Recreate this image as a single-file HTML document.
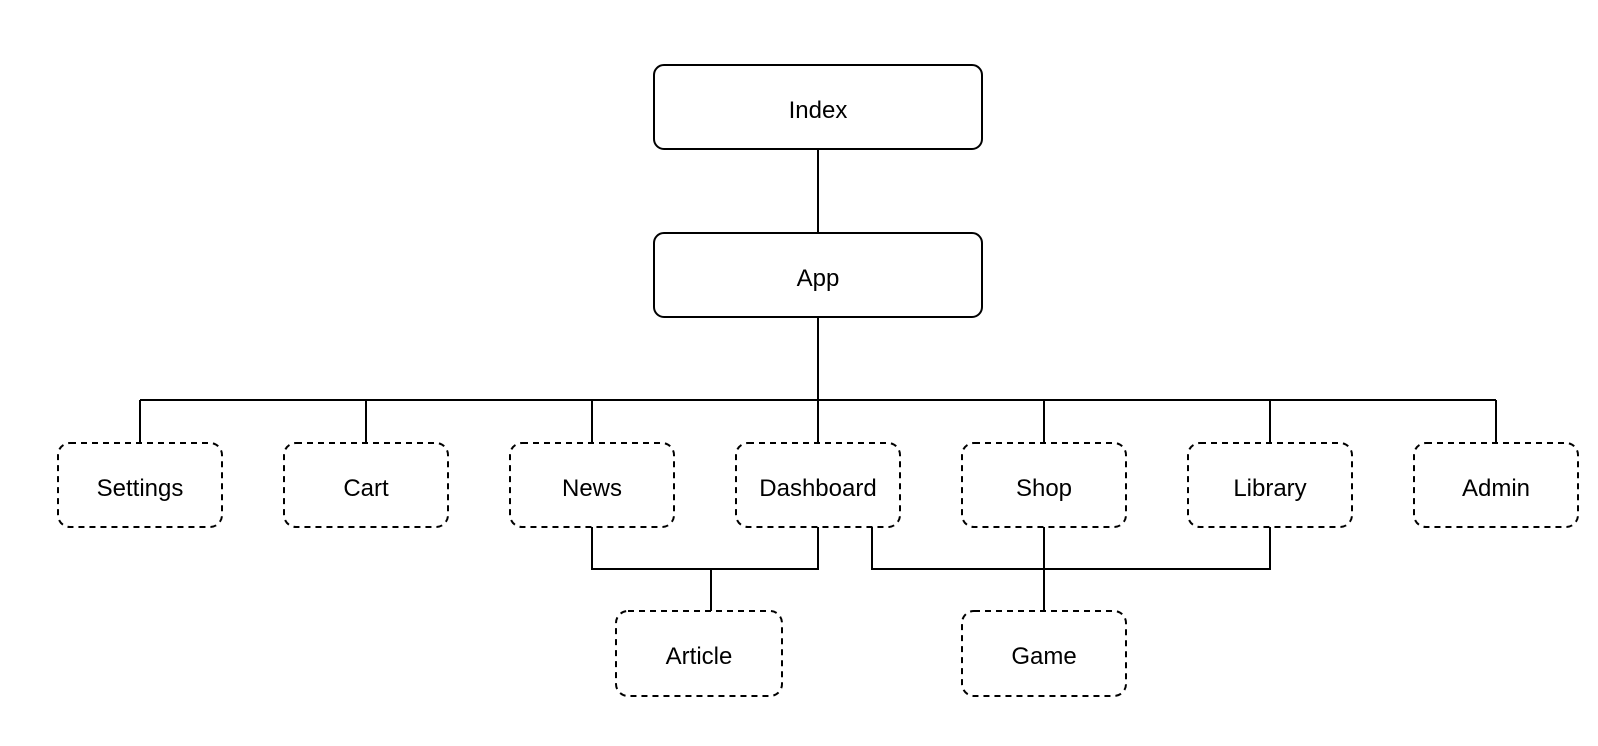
<!DOCTYPE html>
<html><head><meta charset="utf-8"><style>
html,body{margin:0;padding:0;background:#fff;width:1598px;height:746px;overflow:hidden}
text{font-family:"Liberation Sans",Arial,sans-serif;font-size:24px;fill:#000}
</style></head><body>
<svg width="1598" height="746" viewBox="0 0 1598 746" xmlns="http://www.w3.org/2000/svg">
<g stroke="#000" stroke-width="2" fill="none">
<line x1="818" y1="149" x2="818" y2="233"/>
<line x1="818" y1="317" x2="818" y2="443"/>
<line x1="140" y1="400" x2="1496" y2="400"/>
<line x1="140" y1="400" x2="140" y2="443"/>
<line x1="366" y1="400" x2="366" y2="443"/>
<line x1="592" y1="400" x2="592" y2="443"/>
<line x1="1044" y1="400" x2="1044" y2="443"/>
<line x1="1270" y1="400" x2="1270" y2="443"/>
<line x1="1496" y1="400" x2="1496" y2="443"/>
<polyline points="592,527 592,569 818,569 818,527"/>
<line x1="711" y1="569" x2="711" y2="611"/>
<polyline points="872,527 872,569 1270,569 1270,527"/>
<line x1="1044" y1="527" x2="1044" y2="611"/>
<rect x="654" y="65" width="328" height="84" rx="10"/>
<rect x="654" y="233" width="328" height="84" rx="10"/>
<g stroke-dasharray="6,5">
<rect x="58" y="443" width="164" height="84" rx="12"/>
<rect x="284" y="443" width="164" height="84" rx="12"/>
<rect x="510" y="443" width="164" height="84" rx="12"/>
<rect x="736" y="443" width="164" height="84" rx="12"/>
<rect x="962" y="443" width="164" height="84" rx="12"/>
<rect x="1188" y="443" width="164" height="84" rx="12"/>
<rect x="1414" y="443" width="164" height="84" rx="12"/>
<rect x="616" y="611" width="166" height="85" rx="12"/>
<rect x="962" y="611" width="164" height="85" rx="12"/>
</g>
</g>
<g text-anchor="middle">
<text x="818" y="118">Index</text>
<text x="818" y="286">App</text>
<text x="140" y="496">Settings</text>
<text x="366" y="496">Cart</text>
<text x="592" y="496">News</text>
<text x="818" y="496">Dashboard</text>
<text x="1044" y="496">Shop</text>
<text x="1270" y="496">Library</text>
<text x="1496" y="496">Admin</text>
<text x="699" y="664">Article</text>
<text x="1044" y="664">Game</text>
</g>
</svg>
</body></html>
